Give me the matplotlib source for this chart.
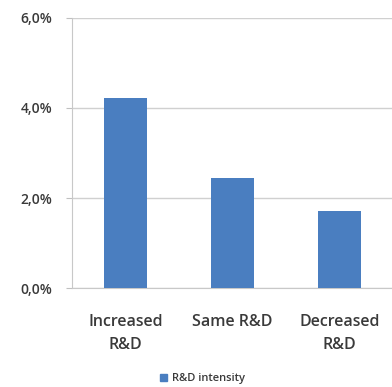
import matplotlib.pyplot as plt
from matplotlib.ticker import FuncFormatter
from matplotlib.patches import Patch

categories = ["Increased\nR&D", "Same R&D", "Decreased\nR&D"]
intensity = [0.0422, 0.0244, 0.0171]
series_name = "R&D intensity"

plt.rcParams['font.family'] = ['Open Sans', 'DejaVu Sans']

fig = plt.figure(figsize=(3.92, 3.87), dpi=100)
ax = fig.add_axes([0.1837, 0.2558, 0.819, 0.6977])

x = range(len(categories))
ax.bar(x, intensity, width=0.4, color="#4a7ec0", zorder=3)

ax.set_xlim(-0.5, 2.5)
ax.set_ylim(0, 0.06)
ax.set_yticks([0, 0.02, 0.04, 0.06])
ax.yaxis.set_major_formatter(FuncFormatter(lambda v, p: f"{v*100:.1f}%".replace(".", ",")))
ax.set_xticks(list(x))
ax.set_xticklabels(categories, fontsize=11.5, color="#3a3a3a", linespacing=1.55,
                   fontweight="semibold")
for t in ax.get_yticklabels():
    t.set_fontweight("semibold")
ax.tick_params(axis="y", labelsize=10, colors="#3a3a3a", length=4, color="#c0c0c0", pad=10)
ax.tick_params(axis="x", length=0, pad=19)

ax.grid(axis="y", color="#d0d0d0", linewidth=1, zorder=0)
for s in ["top", "right"]:
    ax.spines[s].set_visible(False)
ax.spines["left"].set_color("#c8c8c8")
ax.spines["bottom"].set_color("#c8c8c8")

leg = fig.legend(handles=[Patch(color="#4a7ec0", label=series_name)], loc="center",
                 bbox_to_anchor=(0.517, 0.022), frameon=False, fontsize=8,
                 handlelength=0.6, handleheight=0.6, handletextpad=0.5)
for t in leg.get_texts():
    t.set_fontweight("semibold")
    t.set_color("#3a3a3a")

fig.savefig("out.png", dpi=100)
